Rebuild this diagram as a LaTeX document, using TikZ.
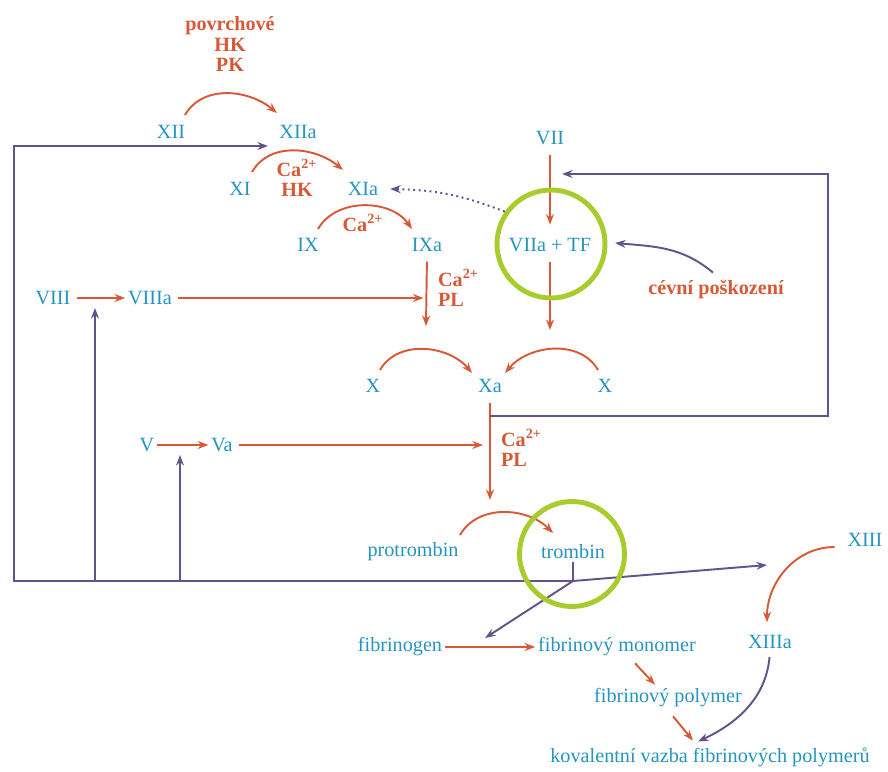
\documentclass[tikz,border=0pt]{standalone}
\usepackage{fontspec}
\setmainfont{Liberation Serif}
\usepackage{xcolor}
\usepackage{tikz}
\usetikzlibrary{arrows.meta,calc}

\definecolor{fblue}{RGB}{38,148,192}
\definecolor{fred}{RGB}{214,90,55}
\definecolor{fviolet}{RGB}{100,82,138}
\definecolor{fgreen}{RGB}{168,204,46}

\begin{document}
\begin{tikzpicture}[x=0.02cm, y=0.02cm,
    every node/.style={font=\fontsize{11.5}{13}\selectfont},
    fac/.style={text=fblue, inner sep=1.5pt},
    cond/.style={text=fred, inner sep=1pt, font=\fontsize{11.5}{11.5}\selectfont\bfseries},
    ra/.style={draw=fred, line width=1.1pt, -{Stealth[length=6pt,width=4.5pt]}},
    va/.style={draw=fviolet, line width=1.1pt, -{Stealth[length=6pt,width=4.5pt]}},
    vl/.style={draw=fviolet, line width=1.1pt},
    ring/.style={circle, draw=fgreen, line width=2.8pt, inner sep=0pt}]

      \useasboundingbox (0,0) rectangle (888,771);

      % factors
      \node[fac] (f12)  at (171,639) {XII};
      \node[fac] (f12a) at (298,639) {XIIa};
      \node[fac] (f11)  at (240,582) {XI};
      \node[fac] (f11a) at (363,582) {XIa};
      \node[fac] (f9)   at (308,526) {IX};
      \node[fac] (f9a)  at (427,526) {IXa};
      \node[fac] (f7)   at (550,633) {VII};
      \node[fac] (f7tf) at (550,526) {VIIa + TF};
      \node[fac] (f8)   at (53,473)  {VIII};
      \node[fac] (f8a)  at (150,473) {VIIIa};
      \node[fac] (f10)  at (373,385) {X};
      \node[fac] (f10a) at (490,385) {Xa};
      \node[fac] (f10r) at (605,385) {X};
      \node[fac] (f5)   at (147,326) {V};
      \node[fac] (f5a)  at (222,326) {Va};
      \node[fac] (prot) at (413,219) {protrombin};
      \node[fac] (trom) at (573,219) {trombin};
      \node[fac] (f13)  at (865,231) {XIII};
      \node[fac] (f13a) at (770,129) {XIIIa};
      \node[fac] (fbg)  at (400,124) {fibrinogen};
      \node[fac] (fmon) at (617,124) {fibrinový monomer};
      \node[fac] (fpol) at (668,73)  {fibrinový polymer};
      \node[fac] (fkov) at (710,14)  {kovalentní vazba fibrinových polymerů};

      % cofactors
      \node[cond, align=center] (pov)  at (230,727) {povrchové\\HK\\PK};
      \node[cond, align=center] (ca11) at (297,593) {Ca\textsuperscript{2+}\\HK};
      \node[cond] (ca9) at (363,548) {Ca\textsuperscript{2+}};
      \node[cond, align=left, anchor=west] (pl9)  at (436,483) {Ca\textsuperscript{2+}\\PL};
      \node[cond, align=left, anchor=west] (pl10) at (499,323) {Ca\textsuperscript{2+}\\PL};
      \node[cond] (cev) at (716,481) {cévní poškození};

      \coordinate (hub)   at (573,190);
      \coordinate (tip12) at (268,625);
      \coordinate (tip7)  at (562,597);
      \coordinate (j10)   at (490,355);
      \coordinate (r8)    at (95,463);
      \coordinate (r5)    at (180,316);
      \coordinate (m10l)  at (426,445);
      \coordinate (m10r)  at (550,441);
      \coordinate (mtrom) at (490,271);
      \coordinate (tip13) at (767,206);
      \coordinate (tipfg) at (485,133);

      % activation
      \draw[ra] ($(f12)+(14,17)$) to[out=60,in=140] ($(f12a)+(-21,19)$);
      \draw[ra] ($(f11)+(12,17)$) to[out=60,in=140] ($(f11a)+(-20,19)$);
      \draw[ra] ($(f9)+(10,16)$) to[out=60,in=125] ($(f9a)+(-15,16)$);
      \draw[ra] ($(f10)+(7,16)$) to[out=60,in=130] ($(f10a)+(-18,13)$);
      \draw[ra] ($(f10r)+(-7,16)$) to[out=120,in=50] ($(f10a)+(15,13)$);
      \draw[ra] ($(prot)+(47,17)$) to[out=60,in=135] ($(trom)+(-20,19)$);
      \draw[ra] ($(f13.west)+(-10,-7)$) to[out=180,in=90] ($(f13a.north)+(-3,10)$);

      \draw[ra, shorten <=4pt, shorten >=6pt] (f7) -- (f7tf);
      \draw[ra, shorten <=4pt] (f7tf.south) -- (m10r);
      \draw[ra, shorten <=4pt] (f9a.south) -- (m10l);
      \draw[ra, shorten <=4pt] (f10a.south) -- (mtrom);
      \draw[ra, shorten <=2pt] (f8) -- (f8a);
      \draw[ra, shorten <=2pt, shorten >=2pt] (f8a) -- (f8a -| f9a);
      \draw[ra] (f5) -- (f5a);
      \draw[ra, shorten <=2pt, shorten >=4pt] (f5a) -- (f5a -| f10a);
      \draw[ra] (fbg) -- (fmon);
      \draw[ra] ($(fmon.south)+(18,-4)$) -- ($(fpol.north)+(-13,1)$);
      \draw[ra] ($(fpol.south)+(5,-6)$) -- ($(fkov.north)+(-17,4)$);

      % feedback
      \draw[vl] (trom.south) -- (hub);
      \draw[va] (hub) -| (14,625) -- (tip12);
      \draw[va] (r8 |- hub) -- (r8);
      \draw[va] (r5 |- hub) -- (r5);
      \draw[va] (j10) -- ++(338,0) |- (tip7);
      \draw[va] (hub) -- (tip13);
      \draw[va] (hub) -- (tipfg);
      \draw[va, shorten <=3pt] (f13a.south) to[out=-95,in=25] ($(fkov.north)+(-12,3)$);
      \draw[va] ($(cev.north)+(-3,6)$) to[out=140,in=-5] ($(f7tf.east)+(21,2)$);

      \node[ring, minimum size=2.16cm] (ring7) at (551,527) {};
      \node[ring, minimum size=2.1cm] (ring2) at (572,217) {};

      \draw[va, dotted] (ring7.145) to[bend right=10] ($(f11a.east)+(9,0)$);
\end{tikzpicture}
\end{document}
